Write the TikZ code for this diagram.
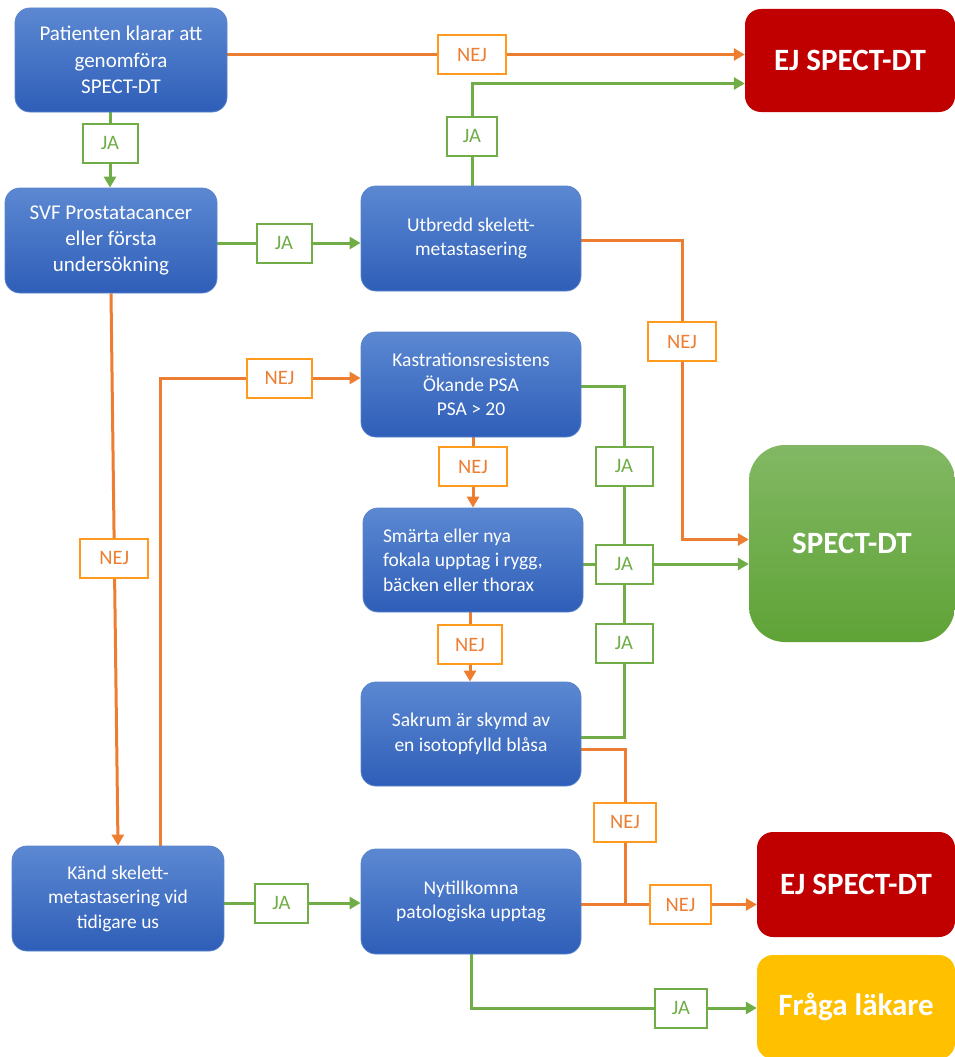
\documentclass[tikz,border=0pt]{standalone}
\usepackage{fontspec}
\setmainfont{Carlito}
\usetikzlibrary{arrows.meta,calc,backgrounds}
\definecolor{bltop}{HTML}{5C88D2}
\definecolor{blbot}{HTML}{2E5EB8}
\definecolor{blbord}{HTML}{5A84CC}
\definecolor{grtop}{HTML}{82B864}
\definecolor{grbot}{HTML}{5FA336}
\definecolor{ejred}{HTML}{C00000}
\definecolor{askyel}{HTML}{FFC000}
\definecolor{oline}{HTML}{ED7D31}
\definecolor{olab}{HTML}{FF9A1F}
\definecolor{gline}{HTML}{70AD47}
\begin{document}
\begin{tikzpicture}[x=1pt,y=-1pt,
  bluebox/.style={rounded corners=15pt, top color=bltop, bottom color=blbot, draw=blbord, line width=0.8pt,
    text=white, align=center, inner sep=0pt, font=\fontsize{19.5}{24.5}\selectfont},
  bigbox/.style={rounded corners=16pt, text=white, inner sep=0pt, font=\fontsize{31}{36}\selectfont\bfseries},
  labbox/.style={draw, fill=white, line width=2pt, minimum height=39pt, inner sep=0pt, font=\fontsize{20.5}{24}\selectfont},
  jalab/.style={labbox, draw=gline, text=gline, minimum width=55pt},
  nejlab/.style={labbox, draw=olab, text=oline, minimum width=68pt},
  oconn/.style={draw=oline, line width=3pt},
  gconn/.style={draw=gline, line width=3pt},
  tip/.style={-{Triangle[length=11pt,width=12pt]}}
]
\useasboundingbox (0,0) rectangle (955,1057);

% main boxes
\node[bluebox, minimum width=212pt, minimum height=104pt, font=\fontsize{21}{26.5}\selectfont] (n1) at (121,60) {Patienten klarar att\\genomföra\\SPECT-DT};
\node[bluebox, minimum width=212pt, minimum height=105pt, font=\fontsize{21}{26}\selectfont] (n2) at (111,240.5) {SVF Prostatacancer\\eller första\\undersökning};
\node[bluebox, minimum width=220pt, minimum height=105pt] (n3) at (471,238.5) {Utbredd skelett-\\metastasering};
\node[bluebox, minimum width=220pt, minimum height=105pt] (n5) at (471,384.5) {Kastrationsresistens\\Ökande PSA\\PSA > 20};
\node[bluebox, minimum width=220pt, minimum height=104pt, text width=180pt, align=flush left] (n6) at (473,560) {Smärta eller nya\\fokala upptag i rygg,\\bäcken eller thorax};
\node[bluebox, minimum width=220pt, minimum height=104pt] (n7) at (471,734) {Sakrum är skymd av\\en isotopfylld blåsa};
\node[bluebox, minimum width=212pt, minimum height=105pt] (n8) at (118,898.5) {Känd skelett-\\metastasering vid\\tidigare us};
\node[bluebox, minimum width=220pt, minimum height=105pt] (n9) at (471,901.5) {Nytillkomna\\patologiska upptag};

\node[bigbox, fill=ejred, minimum width=210pt, minimum height=103pt] (ej1) at (850,60.5) {EJ SPECT-DT};
\node[bigbox, rounded corners=36pt, top color=grtop, bottom color=grbot, minimum width=206pt, minimum height=197pt] (spect) at (852,543.5) {SPECT-DT};
\node[bigbox, fill=ejred, minimum width=198pt, minimum height=105pt] (ej2) at (856,884.5) {EJ SPECT-DT};
\node[bigbox, fill=askyel, minimum width=198pt, minimum height=104pt] (ask) at (856,1007) {Fråga läkare};

% labels
\node[nejlab] (lN1) at (472,54.5) {NEJ};
\node[jalab] (lJ1) at (110,143) {JA};
\node[jalab] (lJ2) at (284,243) {JA};
\node[jalab, minimum width=50pt] (lJ3) at (472,136) {JA};
\node[nejlab] (lN3) at (682,341.5) {NEJ};
\node[nejlab] (lN2) at ($(n2.south)!0.48!(n8.north)$) {NEJ};
\node[nejlab, minimum width=65pt] (lN4) at (279.5,378) {NEJ};
\node[nejlab] (lN5) at (473,466.5) {NEJ};
\node[nejlab, minimum width=64pt] (lN6) at (470,644.5) {NEJ};
\node[jalab, minimum width=57pt] (lJ4) at (624,466) {JA};
\node[jalab, minimum width=57pt] (lJ5) at (624,564) {JA};
\node[jalab, minimum width=57pt] (lJ6) at (624,643) {JA};
\node[nejlab, minimum width=62pt] (lN7) at (625,822) {NEJ};
\node[nejlab, minimum width=61pt] (lN8) at (680.5,904.5) {NEJ};
\node[jalab, minimum width=53pt] (lJ7) at (281.5,903) {JA};
\node[jalab, minimum width=52pt] (lJ8) at (681,1008) {JA};

% connectors
\begin{scope}[on background layer]
\draw[oconn, tip] (n1.east |- lN1) -- (lN1) -- (lN1 -| ej1.west);
\draw[gconn, tip] (lJ1 |- n1.south) -- (lJ1) -- (lJ1 |- n2.north);
\draw[gconn, tip] (n2.east |- lJ2) -- (lJ2) -- (lJ2 -| n3.west);
\draw[gconn, tip] (lJ3 |- n3.north) -- (lJ3) |- ([yshift=-23pt]ej1.west);
\draw[oconn, tip] ([yshift=-1.5pt]n3.east) -| (lN3) |- ([yshift=4pt]spect.west);
\draw[oconn, tip] (n2.south) -- (n8.north);
\draw[oconn, tip] ([xshift=42pt]n8.north) |- (lN4) -- (lN4 -| n5.west);
\draw[oconn, tip] (lN5 |- n5.south) -- (lN5) -- (lN5 |- n6.north);
\draw[oconn, tip] (lN6 |- n6.south) -- (lN6) -- (lN6 |- n7.north);
\draw[gconn] ([yshift=-1.5pt]n5.east) -| (lJ4) -- (lJ5) -- (lJ6) |- ([yshift=-3.5pt]n7.east);
\draw[gconn, tip] (n6.east |- lJ5) -- (lJ5) -- (lJ5 -| spect.west);
\draw[oconn] ([yshift=-15pt]n7.east) -| (lN7) -- (lN7 |- lN8);
\draw[oconn, tip] (n9.east |- lN8) -- (lN8) -- (lN8 -| ej2.west);
\draw[gconn, tip] (n8.east |- lJ7) -- (lJ7) -- (lJ7 -| n9.west);
\draw[gconn, tip] (n9.south) |- (lJ8) -- (lJ8 -| ask.west);
\end{scope}
\end{tikzpicture}
\end{document}
